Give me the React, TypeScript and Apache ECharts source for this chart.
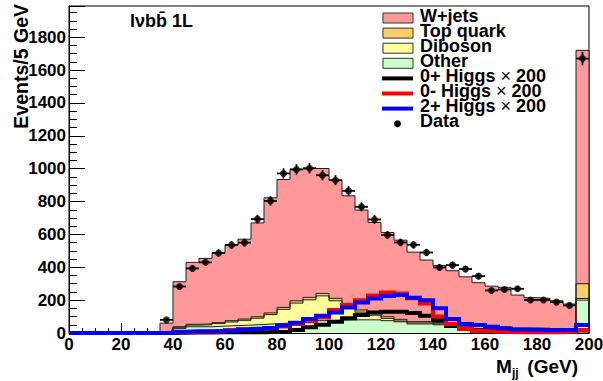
import React, { useEffect, useRef } from "react";
import * as echarts from "echarts";

const FONT = "'Liberation Sans', Arial, Helvetica, sans-serif";

// ---- Stacked MC (bins of 5 GeV, from 35 GeV to 200 GeV; last bin holds overflow)
const mcBinLow = [35, 40, 45, 50, 55, 60, 65, 70, 75, 80, 85, 90, 95, 100, 105, 110, 115, 120, 125, 130, 135, 140, 145, 150, 155, 160, 165, 170, 175, 180, 185, 190, 195];
const wjets = [55, 274, 377, 399, 425, 460, 486, 571, 701, 778, 801, 784, 760, 719, 655, 608, 553, 513, 482, 423, 374, 347, 330, 304, 258, 247, 240, 201, 185, 182, 178, 161, 1420];
const topQuark = [0, 3, 5, 5, 6, 8, 8, 9, 10, 12, 14, 15, 15, 15, 14, 13, 12, 11, 10, 8, 8, 7, 6, 5, 8, 6, 6, 5, 5, 5, 3, 3, 90];
const diboson = [2, 7, 10, 12, 15, 22, 29, 38, 56, 84, 117, 132, 151, 118, 86, 47, 28, 13, 5, 6, 7, 6, 5, 3, 12, 7, 7, 5, 5, 6, 3, 2, 10];
const other = [3, 28, 38, 38, 42, 45, 48, 52, 56, 60, 65, 70, 75, 78, 80, 80, 80, 75, 68, 55, 55, 50, 38, 30, 28, 25, 25, 20, 20, 18, 12, 10, 200];
const dataCounts = [80, 283, 393, 430, 487, 536, 550, 693, 804, 971, 995, 1003, 960, 930, 865, 768, 691, 596, 551, 537, 490, 399, 413, 389, 346, 259, 265, 269, 201, 201, 188, 168, 1670];

// ---- Signal histograms x200 (full 0-200 GeV range)
const sigBinLow = [0, 5, 10, 15, 20, 25, 30, 35, 40, 45, 50, 55, 60, 65, 70, 75, 80, 85, 90, 95, 100, 105, 110, 115, 120, 125, 130, 135, 140, 145, 150, 155, 160, 165, 170, 175, 180, 185, 190, 195];
const higgs0p = [0, 0, 0, 0, 0, 0, 0, 0, 2, 3, 3, 4, 4, 5, 5, 6, 8, 18, 35, 50, 68, 90, 110, 125, 130, 130, 122, 105, 78, 42, 25, 15, 12, 10, 10, 9, 9, 8, 10, 15];
const higgs0m = [0, 0, 0, 0, 0, 0, 0, 0, 5, 7, 8, 10, 18, 25, 28, 32, 40, 55, 72, 95, 140, 170, 200, 228, 247, 241, 211, 180, 100, 55, 25, 12, 8, 6, 5, 5, 4, 4, 8, 18];
const higgs2p = [0, 0, 0, 0, 0, 0, 0, 0, 8, 10, 10, 12, 15, 20, 25, 30, 45, 62, 85, 105, 125, 155, 185, 210, 225, 232, 215, 200, 150, 85, 55, 48, 38, 28, 22, 20, 18, 18, 18, 48];

const xTicks = [0, 20, 40, 60, 80, 100, 120, 140, 160, 180, 200];
const yTicks = [0, 200, 400, 600, 800, 1000, 1200, 1400, 1600, 1800];

const BIN = 5;
const X_MAX = 200;
const Y_MAX = 1990;

const COLORS = {
  wjets: "#ff9999",
  top: "#ffcc66",
  diboson: "#ffff99",
  other: "#ccffcc",
};

function cumulative(layers: number[][]): number[] {
  return layers[0].map((_, i) => layers.reduce((s, l) => s + l[i], 0));
}

function stepArea(values: number[]): number[][] {
  const pts: number[][] = [[mcBinLow[0], 0]];
  values.forEach((v, i) => pts.push([mcBinLow[i], v]));
  pts.push([X_MAX, values[values.length - 1]]);
  pts.push([X_MAX, 0]);
  return pts;
}

function stepLine(values: number[]): number[][] {
  const pts = values.map((v, i) => [sigBinLow[i], v]);
  pts.push([X_MAX, values[values.length - 1]]);
  return pts;
}

export default function App() {
  const ref = useRef<HTMLDivElement>(null);

  useEffect(() => {
    if (!ref.current) return;
    const chart = echarts.init(ref.current, undefined, { renderer: "svg" });

    const cumOther = other;
    const cumDib = cumulative([other, diboson]);
    const cumTop = cumulative([other, diboson, topQuark]);
    const cumAll = cumulative([other, diboson, topQuark, wjets]);

    const areaSeries = (name: string, vals: number[], color: string) => ({
      type: "line",
      name,
      data: stepArea(vals),
      step: "end",
      showSymbol: false,
      symbol: "none",
      silent: true,
      lineStyle: { color: "#1e1e1e", width: 1 },
      areaStyle: { color, opacity: 1 },
    });

    const lineSeries = (name: string, vals: number[], color: string) => ({
      type: "line",
      name,
      data: stepLine(vals),
      step: "end",
      showSymbol: false,
      symbol: "none",
      silent: true,
      clip: false,
      lineStyle: { color, width: 4, cap: "butt", join: "miter" },
    });

    const dataPoints = mcBinLow.map((lo, i) => [lo + BIN / 2, dataCounts[i], Math.sqrt(dataCounts[i])]);

    const boldText = { fontFamily: FONT, fontWeight: "bold" as const, fill: "#000" };
    const rowY = (k: number) => 18 + 15.1 * k;
    const LEG_FS = 18;
    const LEG_LH = 14;
    const legendGraphics: any[] = [];
    const boxes = [
      ["W+jets", COLORS.wjets],
      ["Top quark", COLORS.top],
      ["Diboson", COLORS.diboson],
      ["Other", COLORS.other],
    ];
    boxes.forEach(([label, color], k) => {
      legendGraphics.push({
        type: "rect",
        shape: { x: 383, y: rowY(k) - 5, width: 30, height: 10 },
        style: { fill: color, stroke: "#333", lineWidth: 1 },
      });
      legendGraphics.push({
        type: "text",
        x: 420,
        y: rowY(k) - 2.5,
        style: { ...boldText, text: label, fontSize: LEG_FS, lineHeight: LEG_LH, verticalAlign: "middle", align: "left" },
      });
    });
    const lines = [
      ["0+", "#000000"],
      ["0-", "#ff0000"],
      ["2+", "#0000ff"],
    ];
    lines.forEach(([lab, color], j) => {
      const k = j + 4;
      legendGraphics.push({
        type: "line",
        shape: { x1: 382, y1: rowY(k), x2: 413, y2: rowY(k) },
        style: { stroke: color, lineWidth: 4 },
      });
      legendGraphics.push({
        type: "text",
        x: 420,
        y: rowY(k) - 2.5,
        style: {
          text: `{b|${lab} Higgs }{x|×}{b| 200}`,
          verticalAlign: "middle",
          align: "left",
          lineHeight: LEG_LH,
          rich: {
            b: { fontFamily: FONT, fontWeight: "bold", fontSize: LEG_FS, lineHeight: LEG_LH, fill: "#000", color: "#000" },
            x: { fontFamily: FONT, fontWeight: "normal", fontSize: LEG_FS, lineHeight: LEG_LH, fill: "#000", color: "#000" },
          },
        },
      });
    });
    legendGraphics.push({
      type: "circle",
      shape: { cx: 397.5, cy: rowY(7), r: 3.5 },
      style: { fill: "#000" },
    });
    legendGraphics.push({
      type: "text",
      x: 420,
      y: rowY(7) - 2.5,
      style: { ...boldText, text: "Data", fontSize: LEG_FS, lineHeight: LEG_LH, verticalAlign: "middle", align: "left" },
    });

    const option: any = {
      animation: false,
      backgroundColor: "#ffffff",
      grid: {
        left: 69,
        right: 14,
        top: 6,
        bottom: 48,
        show: true,
        borderColor: "#000",
        borderWidth: 1,
        backgroundColor: "transparent",
        containLabel: false,
        outerBoundsMode: "none",
      },
      xAxis: {
        type: "value",
        min: 0,
        max: X_MAX,
        interval: 20,
        axisLine: { show: true, onZero: false, lineStyle: { color: "#000", width: 1 } },
        axisTick: { show: true, inside: true, length: 10, lineStyle: { color: "#000", width: 1 } },
        minorTick: { show: true, splitNumber: 4, length: 5, lineStyle: { color: "#000", width: 1 } },
        splitLine: { show: false },
        axisLabel: {
          show: true,
          margin: 3,
          color: "#000",
          fontFamily: FONT,
          fontWeight: "bold",
          fontSize: 17,
          formatter: (v: number) => (xTicks.includes(v) ? String(v) : ""),
        },
      },
      yAxis: {
        type: "value",
        min: 0,
        max: Y_MAX,
        interval: 200,
        axisLine: { show: true, onZero: false, lineStyle: { color: "#000", width: 1 } },
        axisTick: { show: true, inside: true, length: 16, lineStyle: { color: "#000", width: 1 } },
        minorTick: { show: true, splitNumber: 4, length: 8, lineStyle: { color: "#000", width: 1 } },
        splitLine: { show: false },
        axisLabel: {
          show: true,
          margin: 3,
          color: "#000",
          fontFamily: FONT,
          fontWeight: "bold",
          fontSize: 17,
          showMaxLabel: false,
          formatter: (v: number) => (yTicks.includes(v) ? String(v) : ""),
        },
      },
      series: [
        areaSeries("W+jets", cumAll, COLORS.wjets),
        areaSeries("Top quark", cumTop, COLORS.top),
        areaSeries("Diboson", cumDib, COLORS.diboson),
        areaSeries("Other", cumOther, COLORS.other),
        lineSeries("0+ Higgs x 200", higgs0p, "#000000"),
        lineSeries("0- Higgs x 200", higgs0m, "#ff0000"),
        lineSeries("2+ Higgs x 200", higgs2p, "#0000ff"),
        {
          type: "custom",
          name: "Data errors",
          silent: true,
          data: dataPoints,
          renderItem: (_params: any, api: any) => {
            const x = api.value(0);
            const y = api.value(1);
            const e = api.value(2);
            const l = api.coord([x - BIN / 2, y]);
            const r = api.coord([x + BIN / 2, y]);
            const t = api.coord([x, y + e]);
            const b = api.coord([x, y - e]);
            return {
              type: "group",
              children: [
                { type: "line", shape: { x1: l[0], y1: l[1], x2: r[0], y2: r[1] }, style: { stroke: "#000", lineWidth: 1.8 } },
                { type: "line", shape: { x1: t[0], y1: t[1], x2: b[0], y2: b[1] }, style: { stroke: "#000", lineWidth: 1.8 } },
              ],
            };
          },
          z: 5,
        },
        {
          type: "scatter",
          name: "Data",
          data: dataPoints.map((p) => [p[0], p[1]]),
          symbol: "circle",
          symbolSize: 7,
          itemStyle: { color: "#000" },
          silent: true,
          z: 6,
        },
      ],
      graphic: [
        {
          type: "text",
          x: 130,
          y: 21,
          style: { ...boldText, text: "lνbb\u0304 1L", fontSize: 18, verticalAlign: "middle", align: "left" },
        },
        {
          type: "text",
          x: 21,
          y: 4,
          rotation: Math.PI / 2,
          style: { ...boldText, text: "Events/5 GeV", fontSize: 19.5, verticalAlign: "middle", align: "right" },
        },
        {
          type: "text",
          x: 496,
          y: 366,
          style: { ...boldText, text: "M", fontSize: 19, verticalAlign: "middle", align: "left" },
        },
        {
          type: "text",
          x: 512,
          y: 373,
          style: { ...boldText, text: "jj", fontSize: 12, verticalAlign: "middle", align: "left" },
        },
        {
          type: "text",
          x: 578,
          y: 366,
          style: { ...boldText, text: "(GeV)", fontSize: 19, verticalAlign: "middle", align: "right" },
        },
        ...legendGraphics,
      ],
    };

    chart.setOption(option);
    return () => chart.dispose();
  }, []);

  return (
    <div
      ref={ref}
      style={{ position: "fixed", left: 0, top: 0, width: 603, height: 381, background: "#fff" }}
    />
  );
}
